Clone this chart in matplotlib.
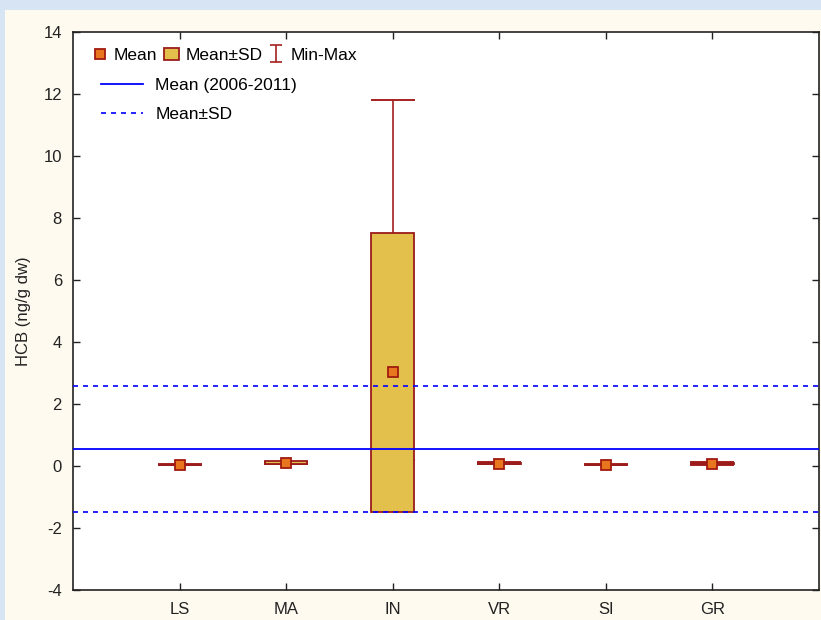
import matplotlib
matplotlib.use("Agg")
import matplotlib.pyplot as plt
from matplotlib.patches import Rectangle
from matplotlib.lines import Line2D
import numpy as np

plt.rcParams['font.family'] = ['Liberation Sans', 'DejaVu Sans']
plt.rcParams['axes.unicode_minus'] = False

categories = ['LS', 'MA', 'IN', 'VR', 'SI', 'GR']
means = [0.03, 0.10, 3.02, 0.08, 0.03, 0.08]
sds = [0.01, 0.05, 4.50, 0.02, 0.005, 0.03]
mins = [0.02, 0.06, 0.20, 0.05, 0.02, 0.04]
maxs = [0.05, 0.14, 11.80, 0.12, 0.05, 0.13]
overall_mean = 0.55
overall_sd = 2.03
yticks = [-4, -2, 0, 2, 4, 6, 8, 10, 12, 14]

W, H = 821, 620
fig = plt.figure(figsize=(W / 100, H / 100), dpi=100)
fig.patch.set_facecolor('#D6E4F4')
bg = Rectangle((5 / W, 0), 1, 1 - 10 / H, transform=fig.transFigure,
               facecolor='#FFFAEF', edgecolor='none', zorder=-10)
fig.add_artist(bg)

ax = fig.add_axes([73 / W, 30 / H, (819 - 73) / W, (590 - 32) / H])
ax.set_zorder(5)
ax.set_facecolor('white')

x = np.arange(len(categories))
means_a = np.array(means)
sds_a = np.array(sds)

red = '#9B1B1B'
ax.errorbar(x, means_a, yerr=[means_a - np.array(mins), np.array(maxs) - means_a],
            fmt='none', ecolor='#A52020', elinewidth=1.2, capsize=15.5, capthick=1.4,
            zorder=2)
ax.bar(x, 2 * sds_a, bottom=means_a - sds_a, width=0.4, color='#E3C04B',
       edgecolor=red, linewidth=1.3, zorder=3)
mean_h, = ax.plot(x, means_a, 's', ms=6.5, mfc='#E8761E', mec='#A01A10', mew=1.3,
                  linestyle='none', zorder=4)

# legend proxies (not drawn: NaN data)
sd_h = ax.bar([np.nan], [np.nan], width=0.4, color='#E3C04B', edgecolor=red, linewidth=1.3)
mm_h = ax.errorbar([np.nan], [np.nan], yerr=[[1], [1]], fmt='none', ecolor='#A52020',
                   elinewidth=1.2, capsize=4, capthick=1.2)

ax.axhline(overall_mean, color='#0000FF', lw=1.3, zorder=5)
ax.axhline(overall_mean + overall_sd, color='#0000FF', lw=1.2, ls=(0, (3, 3)), zorder=5)
ax.axhline(overall_mean - overall_sd, color='#0000FF', lw=1.2, ls=(0, (3, 3)), zorder=5)

ax.set_xlim(-1, 6)
ax.set_ylim(-4, 14)
ax.set_yticks(yticks)
ax.set_xticks(x)
ax.set_xticklabels(categories)
ax.tick_params(direction='in', top=True, right=True, length=5, width=1,
               labelsize=12, colors='#222222')
ax.tick_params(axis='y', pad=8)
ax.tick_params(axis='x', pad=9)
for s in ax.spines.values():
    s.set_color('#222222')
    s.set_linewidth(1.2)
ax.set_ylabel('HCB (ng/g dw)', fontsize=12, color='#222222', labelpad=9)

leg1 = ax.legend([mean_h, sd_h, mm_h], ['Mean', 'Mean±SD', 'Min-Max'], ncol=3,
                 loc='upper left', bbox_to_anchor=(0.005, 1.0), frameon=False,
                 fontsize=12.5, handlelength=0.9, handletextpad=0.35,
                 columnspacing=0.35, borderaxespad=0.5)
ax.add_artist(leg1)
h2 = [Line2D([0], [0], color='#0000FF', lw=1.3),
      Line2D([0], [0], color='#0000FF', lw=1.2, ls=(0, (3, 3)))]
ax.legend(h2, ['Mean (2006-2011)', 'Mean±SD'], loc='upper left',
          bbox_to_anchor=(0.017, 0.945), frameon=False, fontsize=12.5,
          handlelength=2.4, handletextpad=0.7, labelspacing=0.75)

fig.savefig('out.png', dpi=100, facecolor=fig.get_facecolor())
